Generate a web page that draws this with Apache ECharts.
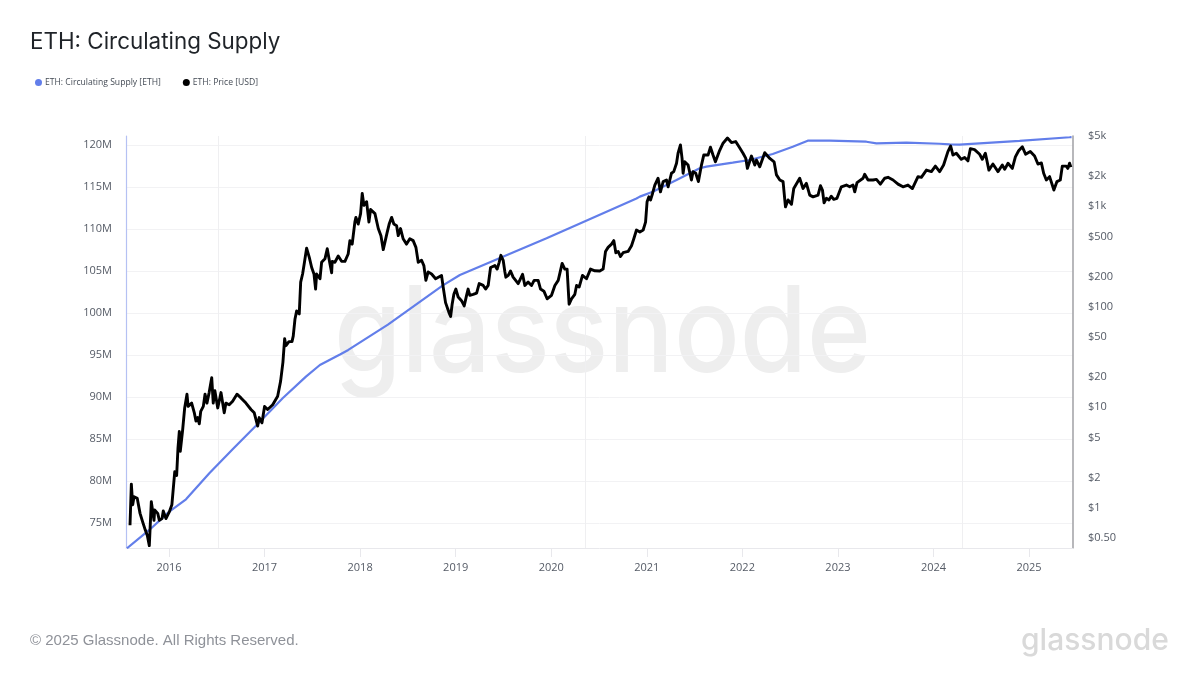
<!DOCTYPE html>
<html><head><meta charset="utf-8">
<style>html,body{margin:0;padding:0;background:#fff}#c{width:1200px;height:675px}</style>
<script src="https://cdn.jsdelivr.net/npm/echarts@6/dist/echarts.min.js"></script>
</head><body><div id="c"></div>
<script>
const titleText = 'ETH: Circulating Supply';
const supplyName = 'ETH: Circulating Supply [ETH]';
const priceName = 'ETH: Price [USD]';
const footerText = '© 2025 Glassnode. All Rights Reserved.';
const brandText = 'glassnode';
const yearTicks = [2016,2017,2018,2019,2020,2021,2022,2023,2024,2025];
const halvingYears = [2016.52,2020.36,2024.30];
const supplyTicks = [75,80,85,90,95,100,105,110,115,120];
const priceTicks = [0.5,1,2,5,10,20,50,100,200,500,1000,2000,5000];

const supplyYears = [2015.56,2015.794,2016.003,2016.178,2016.422,2016.666,2016.928,2017.189,2017.433,2017.579,2017.789,2017.876,2018.291,2018.866,2019.044,2019.494,2019.951,2020.194,2020.892,2020.927,2021.063,2021.311,2021.554,2021.624,2021.899,2022.077,2022.318,2022.527,2022.684,2022.914,2023.298,2023.403,2023.716,2024.064,2024.169,2024.273,2024.901,2025.424,2025.445];
const supplyM = [71.99,74.17,76.35,77.82,80.92,83.77,86.79,89.85,92.42,93.81,95.06,95.6,98.62,103.29,104.52,106.7,108.89,110.12,113.63,113.85,114.44,115.83,117.23,117.42,117.89,118.21,118.93,119.8,120.51,120.51,120.39,120.2,120.27,120.15,120.08,120.04,120.48,120.92,120.94];

const priceYears = [2015.592,2015.606,2015.62,2015.634,2015.668,2015.697,2015.725,2015.752,2015.773,2015.794,2015.815,2015.843,2015.85,2015.882,2015.899,2015.927,2015.94,2015.968,2016.003,2016.03,2016.06,2016.08,2016.094,2016.108,2016.118,2016.143,2016.164,2016.188,2016.2,2016.237,2016.265,2016.282,2016.3,2016.317,2016.332,2016.359,2016.377,2016.397,2016.42,2016.447,2016.463,2016.48,2016.51,2016.544,2016.578,2016.596,2016.63,2016.666,2016.711,2016.753,2016.805,2016.858,2016.892,2016.928,2016.944,2016.973,2017.0,2017.032,2017.085,2017.137,2017.168,2017.192,2017.21,2017.224,2017.255,2017.287,2017.3,2017.318,2017.336,2017.363,2017.378,2017.398,2017.415,2017.44,2017.468,2017.493,2017.517,2017.534,2017.545,2017.58,2017.597,2017.632,2017.656,2017.684,2017.702,2017.708,2017.736,2017.771,2017.806,2017.841,2017.875,2017.893,2017.917,2017.945,2017.956,2017.98,2018.005,2018.022,2018.04,2018.068,2018.092,2018.11,2018.155,2018.19,2018.218,2018.242,2018.26,2018.283,2018.304,2018.33,2018.353,2018.382,2018.399,2018.423,2018.45,2018.486,2018.52,2018.555,2018.584,2018.608,2018.643,2018.667,2018.688,2018.712,2018.748,2018.79,2018.852,2018.869,2018.894,2018.929,2018.947,2018.963,2018.981,2019.002,2019.026,2019.061,2019.089,2019.114,2019.13,2019.148,2019.183,2019.219,2019.246,2019.288,2019.313,2019.34,2019.365,2019.41,2019.434,2019.455,2019.473,2019.497,2019.515,2019.525,2019.55,2019.574,2019.601,2019.654,2019.7,2019.724,2019.758,2019.794,2019.821,2019.863,2019.888,2019.923,2019.957,2020.003,2020.038,2020.073,2020.114,2020.142,2020.166,2020.187,2020.212,2020.247,2020.265,2020.292,2020.327,2020.369,2020.411,2020.456,2020.508,2020.543,2020.568,2020.595,2020.631,2020.655,2020.676,2020.7,2020.725,2020.752,2020.804,2020.84,2020.864,2020.892,2020.927,2020.962,2020.987,2021.003,2021.021,2021.039,2021.06,2021.084,2021.118,2021.143,2021.171,2021.206,2021.223,2021.258,2021.282,2021.311,2021.327,2021.352,2021.369,2021.38,2021.397,2021.432,2021.467,2021.484,2021.512,2021.54,2021.572,2021.596,2021.641,2021.666,2021.693,2021.718,2021.763,2021.798,2021.844,2021.886,2021.93,2021.965,2022.007,2022.036,2022.053,2022.095,2022.13,2022.148,2022.182,2022.234,2022.287,2022.332,2022.357,2022.392,2022.426,2022.451,2022.478,2022.514,2022.538,2022.6,2022.635,2022.67,2022.705,2022.74,2022.792,2022.817,2022.838,2022.855,2022.879,2022.906,2022.93,2022.956,2022.99,2023.036,2023.088,2023.123,2023.158,2023.176,2023.2,2023.263,2023.28,2023.315,2023.367,2023.403,2023.444,2023.49,2023.524,2023.577,2023.629,2023.681,2023.733,2023.779,2023.838,2023.873,2023.926,2023.978,2024.02,2024.064,2024.106,2024.151,2024.18,2024.204,2024.239,2024.291,2024.326,2024.36,2024.386,2024.43,2024.483,2024.511,2024.543,2024.58,2024.622,2024.675,2024.72,2024.745,2024.78,2024.825,2024.857,2024.891,2024.93,2024.964,2025.013,2025.058,2025.093,2025.129,2025.153,2025.181,2025.215,2025.26,2025.292,2025.327,2025.348,2025.39,2025.406,2025.424,2025.438];
const priceUsd = [0.67,1.72,1.07,1.29,1.24,0.88,0.72,0.6,0.53,0.42,1.15,0.75,0.95,0.88,0.75,0.78,0.93,0.78,0.91,1.07,2.28,2.1,3.93,5.75,3.65,5.98,9.85,13.5,10.2,11,8.8,7.3,7.9,6.85,9.1,10.2,13.5,11,14,19.7,11,14.6,9.85,14,8.8,11,10.6,11.5,13.5,12.4,11,9.5,8.8,6.5,7.9,7,10.2,9.5,10.6,12.9,18.2,28,48,41,45,45,51,75,91,85,176,212,268,383,310,246,212,150,212,190,277,300,378,268,218,283,277,320,283,283,335,455,420,695,775,665,845,1340,1020,1110,695,930,845,600,510,370,355,550,665,775,665,640,510,600,475,420,475,455,390,277,290,257,183,222,212,190,205,157,110,88,80,106,133,150,125,115,102,130,150,130,133,137,170,163,150,163,246,257,237,277,325,290,222,197,205,227,197,170,210,163,176,163,183,183,150,143,120,130,163,183,270,237,237,106,120,133,163,157,205,190,237,228,227,237,355,390,420,455,345,355,316,345,355,405,475,580,555,580,695,1110,1240,1155,1340,1625,1900,1390,1760,1825,1560,2130,2210,2680,3370,4070,2990,2130,2770,2570,1825,2210,2130,1760,2570,3230,3230,3870,3230,2770,3600,4240,4770,4300,4400,3900,3370,2990,2380,3160,2570,2880,2470,3410,2990,2770,2050,1825,1760,985,1155,1045,1500,1900,1500,1690,1290,1240,1290,1600,1450,1080,1200,1155,1260,1170,1200,1560,1625,1560,1625,1390,1720,1900,2080,1825,1825,1850,1660,1900,1940,1825,1660,1560,1625,1500,1970,1940,2290,2210,2510,2210,2570,3500,3975,3230,3370,2930,3060,2830,3740,3660,3290,2930,3370,2290,2630,2210,2570,2330,2680,2380,3100,3570,3900,3290,3500,3160,2630,2700,2130,1825,1970,1450,1760,1825,2510,2510,2380,2680,2450];

const tickText = '#555b66';
const supplyColor = '#627eea';
const chart = echarts.init(document.getElementById('c'), null, {renderer:'canvas'});
chart.setOption({
  animation:false,
  backgroundColor:'#fff',
  textStyle:{fontFamily:'"Open Sans",sans-serif'},
  title:{text:titleText,left:25,top:26,textStyle:{fontFamily:'Inter',fontSize:22.4,fontWeight:400,color:'#1f2328'}},
  legend:{left:30,top:73,icon:'circle',itemWidth:7,itemHeight:7,itemGap:22,
    textStyle:{fontFamily:'"Open Sans"',fontSize:8.6,color:'#444b55',padding:[0,0,0,-2]},
    data:[supplyName,priceName]},
  grid:{left:126,right:127,top:136,bottom:127,containLabel:false},
  xAxis:{type:'value',min:2015.55,max:2025.46,
    axisLine:{show:true,lineStyle:{color:'#e8e8ec',width:1}},
    axisTick:{show:true,length:9,lineStyle:{color:'#e8e8ec'},customValues:yearTicks},
    axisLabel:{color:tickText,fontSize:11,margin:14,customValues:yearTicks,formatter:v=>String(Math.round(v))},
    splitLine:{show:false}},
  yAxis:[
    {type:'value',position:'left',min:72.02,max:121.07,
      axisLine:{show:true,lineStyle:{color:'#b5c1f3',width:1.2}},
      axisTick:{show:false,customValues:supplyTicks},
      axisLabel:{color:tickText,fontSize:11,margin:14,padding:[4,0,0,0],customValues:supplyTicks,formatter:v=>Math.round(v)+'M'},
      splitLine:{show:true,lineStyle:{color:'#f2f2f4',width:1}}},
    {type:'log',logBase:10,position:'right',min:0.398,max:5000,
      axisLine:{show:true,lineStyle:{color:'#a6a6aa',width:1.6}},
      axisTick:{show:false,customValues:priceTicks},
      axisLabel:{color:tickText,fontSize:11,margin:15,padding:[5,0,0,0],customValues:priceTicks,
        formatter:v=>v<1?'$'+v.toFixed(2):(v>=1000?'$'+Math.round(v/1000)+'k':'$'+Math.round(v))},
      splitLine:{show:false}}
  ],
  graphic:[
    {type:'text',silent:true,z:-1,left:334,top:276,scaleY:1.1,style:{text:brandText,fontFamily:'Inter',fontSize:109,fontWeight:500,fill:'#eeeeee'}},
    {type:'text',silent:true,left:30,top:633,style:{text:footerText,fontFamily:'"Liberation Sans"',fontSize:15,fill:'#8f9299'}},
    {type:'text',silent:true,left:1021,top:626,style:{text:brandText,fontFamily:'Inter',fontSize:30,fontWeight:500,fill:'#d9d9d9'}}
  ],
  series:[
    {name:supplyName,type:'line',yAxisIndex:0,showSymbol:false,symbol:'circle',z:3,
      color:supplyColor,lineStyle:{color:supplyColor,width:2.2},
      data:supplyYears.map((y,i)=>[y,supplyM[i]]),
      markLine:{silent:true,symbol:'none',z:1,label:{show:false},
        lineStyle:{color:'#efeff1',width:1,type:'solid'},
        data:halvingYears.map(y=>({xAxis:y}))}},
    {name:priceName,type:'line',yAxisIndex:1,showSymbol:false,symbol:'circle',z:4,
      color:'#000',lineStyle:{color:'#000',width:2.9,join:'round'},
      data:priceYears.map((y,i)=>[y,priceUsd[i]])}
  ]
});
</script></body></html>
